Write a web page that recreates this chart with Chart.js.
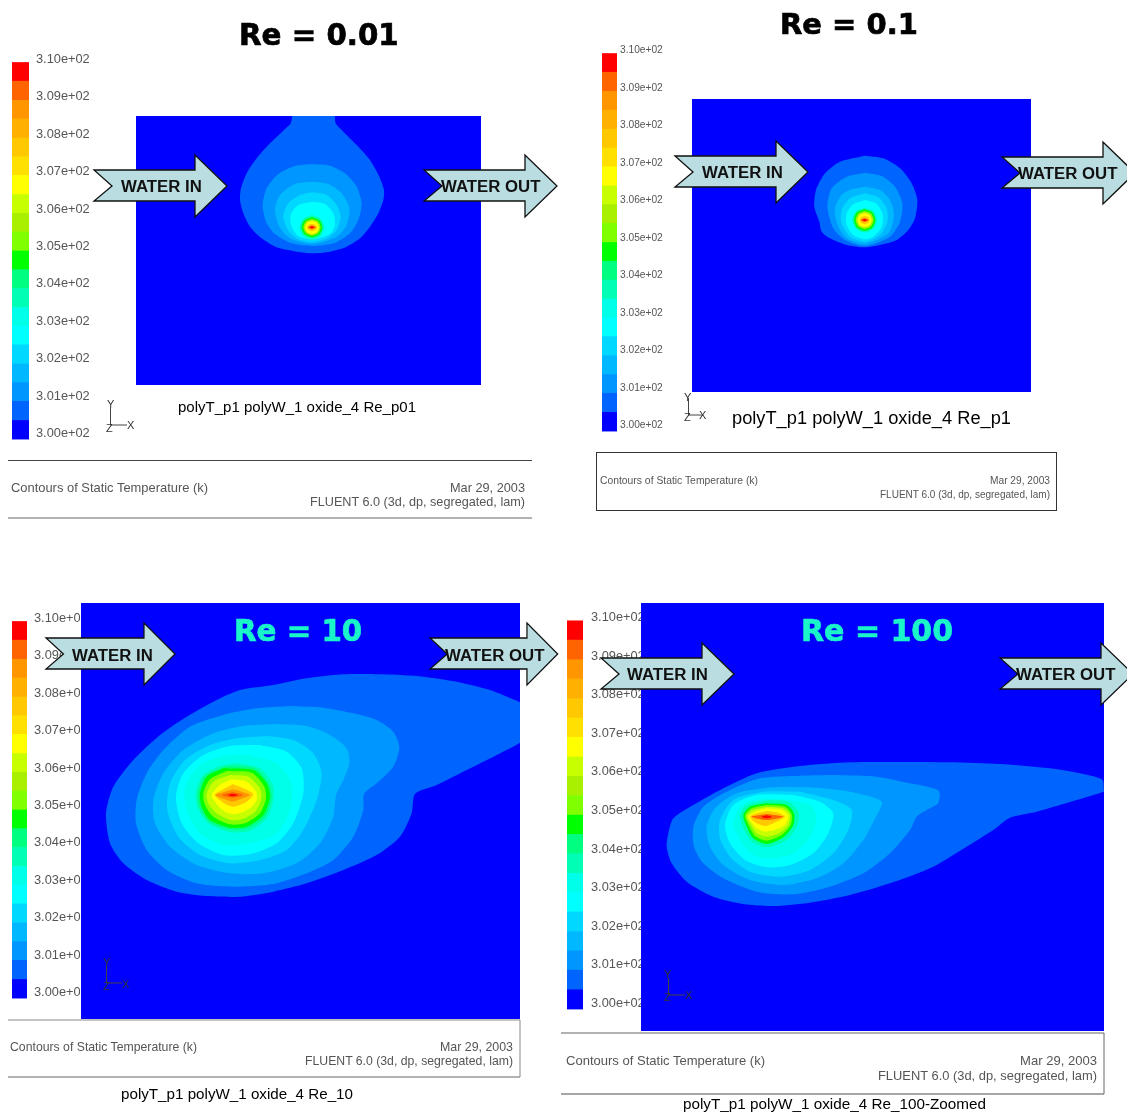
<!DOCTYPE html>
<html>
<head>
<meta charset="utf-8">
<title>Contours of Static Temperature</title>
<script src="https://cdn.jsdelivr.net/npm/chart.js@4"></script>
<style>
  html, body { margin: 0; background: #fff; }
  #page { position: relative; width: 1127px; height: 1114px; overflow: hidden; }
  #page canvas { position: absolute; }
  #notes { position: absolute; left: 0; top: 0; font-family: "Liberation Sans", Arial, sans-serif; }
  #notes .title { font-family: "DejaVu Sans", Verdana, sans-serif; font-weight: bold; stroke-width: 0.7; }
  #notes .arrow { fill: #b9dde0; stroke: #111; stroke-width: 1.3; }
  #notes .arrowText { font-weight: bold; font-size: 16.8px; fill: #111; }
  #notes .foot { fill: #555; }
  #notes .triad { fill: #333; font-size: 11px; }
</style>
</head>
<body>
<div id="page">
<svg id="notes" width="1127" height="1114" style="z-index:5">
  <defs>
    <polygon id="arrowShape" class="arrow" points="0,15 101,15 101,0 133,31 101,62 101,46 0,46 18,31"></polygon>
  </defs>

  <text class="title" x="239" y="45" font-size="29.3" fill="#000" stroke="#000">Re = 0.01</text>
  <text class="title" x="780" y="34" font-size="29" fill="#000" stroke="#000">Re = 0.1</text>
  <text class="title" x="234" y="641" font-size="29.3" fill="#19f5c9" stroke="#19f5c9">Re = 10</text>
  <text class="title" x="801" y="641" font-size="30" fill="#19f5c9" stroke="#19f5c9">Re = 100</text>

  <use href="#arrowShape" x="94" y="155"></use>
  <text class="arrowText" x="121" y="192">WATER IN</text>
  <use href="#arrowShape" x="424" y="155"></use>
  <text class="arrowText" x="441" y="192">WATER OUT</text>
  <use href="#arrowShape" x="675" y="141"></use>
  <text class="arrowText" x="702" y="178">WATER IN</text>
  <use href="#arrowShape" x="1002" y="142"></use>
  <text class="arrowText" x="1018" y="179">WATER OUT</text>
  <use href="#arrowShape" transform="translate(46,623) scale(.97,1)"></use>
  <text class="arrowText" x="72" y="661">WATER IN</text>
  <use href="#arrowShape" transform="translate(430,623) scale(.96,1)"></use>
  <text class="arrowText" x="445" y="661">WATER OUT</text>
  <use href="#arrowShape" x="601" y="643"></use>
  <text class="arrowText" x="627" y="680">WATER IN</text>
  <use href="#arrowShape" x="1000" y="643"></use>
  <text class="arrowText" x="1016" y="680">WATER OUT</text>

  <text x="178" y="412" font-size="14" textLength="238" lengthAdjust="spacingAndGlyphs">polyT_p1 polyW_1 oxide_4 Re_p01</text>
  <text x="732" y="424" font-size="17.5" textLength="279" lengthAdjust="spacingAndGlyphs">polyT_p1 polyW_1 oxide_4 Re_p1</text>
  <text x="121" y="1099" font-size="14.3" textLength="232" lengthAdjust="spacingAndGlyphs">polyT_p1 polyW_1 oxide_4 Re_10</text>
  <text x="683" y="1109" font-size="14.5" textLength="303" lengthAdjust="spacingAndGlyphs">polyT_p1 polyW_1 oxide_4 Re_100-Zoomed</text>

  <line x1="8" y1="460.5" x2="532" y2="460.5" stroke="#444"></line>
  <line x1="8" y1="518" x2="532" y2="518" stroke="#999" stroke-width="1.5"></line>
  <text class="foot" x="11" y="492" font-size="13" textLength="197" lengthAdjust="spacingAndGlyphs">Contours of Static Temperature (k)</text>
  <text class="foot" x="525" y="492" font-size="12.7" text-anchor="end" textLength="75" lengthAdjust="spacingAndGlyphs">Mar 29, 2003</text>
  <text class="foot" x="525" y="506" font-size="12.7" text-anchor="end" textLength="215" lengthAdjust="spacingAndGlyphs">FLUENT 6.0 (3d, dp, segregated, lam)</text>

  <rect x="596.5" y="452.5" width="460" height="58" fill="none" stroke="#333"></rect>
  <text class="foot" x="600" y="484" font-size="10.5" textLength="158" lengthAdjust="spacingAndGlyphs">Contours of Static Temperature (k)</text>
  <text class="foot" x="1050" y="484" font-size="10.2" text-anchor="end" textLength="60" lengthAdjust="spacingAndGlyphs">Mar 29, 2003</text>
  <text class="foot" x="1050" y="498" font-size="10.2" text-anchor="end" textLength="170" lengthAdjust="spacingAndGlyphs">FLUENT 6.0 (3d, dp, segregated, lam)</text>

  <line x1="8" y1="1020" x2="520" y2="1020" stroke="#888"></line>
  <line x1="8" y1="1077" x2="520" y2="1077" stroke="#999" stroke-width="1.5"></line>
  <line x1="520" y1="1020" x2="520" y2="1077" stroke="#888"></line>
  <text class="foot" x="10" y="1051" font-size="13" textLength="187" lengthAdjust="spacingAndGlyphs">Contours of Static Temperature (k)</text>
  <text class="foot" x="513" y="1051" font-size="12.4" text-anchor="end" textLength="73" lengthAdjust="spacingAndGlyphs">Mar 29, 2003</text>
  <text class="foot" x="513" y="1065" font-size="12.4" text-anchor="end" textLength="208" lengthAdjust="spacingAndGlyphs">FLUENT 6.0 (3d, dp, segregated, lam)</text>

  <line x1="561" y1="1033" x2="1104" y2="1033" stroke="#666"></line>
  <line x1="561" y1="1094" x2="1104" y2="1094" stroke="#888" stroke-width="1.5"></line>
  <line x1="1104" y1="1033" x2="1104" y2="1094" stroke="#666"></line>
  <text class="foot" x="566" y="1065" font-size="13.5" textLength="199" lengthAdjust="spacingAndGlyphs">Contours of Static Temperature (k)</text>
  <text class="foot" x="1097" y="1065" font-size="13" text-anchor="end" textLength="77" lengthAdjust="spacingAndGlyphs">Mar 29, 2003</text>
  <text class="foot" x="1097" y="1080" font-size="13" text-anchor="end" textLength="219" lengthAdjust="spacingAndGlyphs">FLUENT 6.0 (3d, dp, segregated, lam)</text>

  <g stroke="#444" fill="none">
    <path d="M110.5 408V425H127"></path>
    <path d="M688.5 398V415H703"></path>
    <path d="M106.5 966V983H122"></path>
    <path d="M668.5 978V995H685"></path>
  </g>
  <g class="triad">
    <text x="107" y="408">Y</text><text x="127" y="429">X</text><text x="106" y="432">Z</text>
    <text x="684" y="401">Y</text><text x="699" y="419">X</text><text x="684" y="421">Z</text>
    <text x="103" y="966">Y</text><text x="122" y="988">X</text><text x="103" y="990">Z</text>
    <text x="664" y="978">Y</text><text x="685" y="999">X</text><text x="664" y="1001">Z</text>
  </g>
</svg>
</div>

<script>
// temperature scale shared by all four plots
const tickValues = [300, 301, 302, 303, 304, 305, 306, 307, 308, 309, 310];
const tickLabels = ["3.00e+02", "3.01e+02", "3.02e+02", "3.03e+02", "3.04e+02", "3.05e+02",
  "3.06e+02", "3.07e+02", "3.08e+02", "3.09e+02", "3.10e+02"];
const bandEdges = [299.85, 300.35, 300.86, 301.36, 301.86, 302.37, 302.87, 303.37, 303.88, 304.38, 304.88,
  305.39, 305.89, 306.39, 306.9, 307.4, 307.9, 308.41, 308.91, 309.42, 309.92];
const bandColors = ["#0000ff", "#0064ff", "#0096ff", "#00b8ff", "#00d8ff", "#00ffff", "#00ffe8", "#00ffb4",
  "#00ff80", "#00ff00", "#80ff00", "#a8f000", "#c8ff00", "#ffff00", "#ffe000", "#ffc800",
  "#ffb000", "#ff9600", "#ff6400", "#ff0000"];

// contour outlines, outermost first. Units are mesh units of each plot, see the ranges below
const re001Bands = [1, 2, 3, 4, 5, 7, 9, 11, 13, 15, 18, 19];
const re001Contours = [
  [[218,5],[212,40],[190,62],[150,100],[110,145],[80,190],[63,235],[60,270],[70,310],[90,350],[125,385],[170,412],[230,425],[275,430],[330,425],[380,410],[420,385],[450,350],[475,310],[490,270],[492,240],[478,200],[450,150],[410,105],[370,65],[347,40],[340,5]],
  [[278,162],[330,167],[375,190],[410,230],[425,280],[415,330],[390,370],[345,398],[278,408],[215,400],[165,372],[138,335],[128,285],[140,235],[175,192],[225,168]],
  [[278,215],[325,222],[365,250],[388,295],[380,345],[350,380],[278,402],[210,385],[178,350],[165,300],[180,255],[225,222]],
  [[278,247],[320,255],[350,285],[362,320],[350,360],[320,385],[278,397],[235,388],[205,362],[190,320],[205,280],[240,255]],
  [[278,275],[315,282],[340,310],[345,345],[330,372],[278,388],[235,378],[215,350],[212,315],[235,285]],
  [[276,315],[302,326],[313,352],[302,378],[276,389],[250,378],[239,352],[250,326]],
  [[276,322],[298,331],[307,352],[298,373],[276,382],[254,373],[245,352],[254,331]],
  [[276,327],[294,334],[302,352],[294,370],[276,377],[258,370],[250,352],[258,334]],
  [[276,332],[291,338],[297,352],[291,366],[276,372],[261,366],[255,352],[261,338]],
  [[276,341],[286,344],[291,352],[286,360],[276,364],[266,360],[261,352],[266,344]],
  [[276,346],[288,352],[276,358],[264,352]],
  [[276,349],[284,352],[276,355],[268,352]]
];

const re01Bands = [1, 2, 3, 4, 5, 7, 9, 11, 13, 15, 18, 19];
const re01Contours = [
  [[225,47],[280,55],[330,85],[365,130],[382,180],[375,235],[355,270],[320,300],[270,315],[225,322],[170,315],[120,295],[95,275],[88,245],[73,200],[78,150],[105,100],[150,65]],
  [[225,98],[275,108],[315,140],[337,190],[330,245],[300,290],[225,318],[165,300],[130,265],[112,200],[125,145],[170,110]],
  [[225,140],[270,150],[300,180],[312,225],[295,280],[225,312],[170,295],[143,255],[135,205],[155,165],[185,148]],
  [[225,160],[265,172],[290,205],[292,245],[270,285],[225,305],[180,290],[155,250],[155,210],[180,175]],
  [[225,180],[258,190],[278,222],[275,262],[250,290],[225,298],[190,285],[170,255],[170,220],[190,193]],
  [[224,203],[250,214],[261,240],[250,266],[224,277],[198,266],[187,240],[198,214]],
  [[224,208],[247,217],[256,240],[247,263],[224,272],[201,263],[192,240],[201,217]],
  [[224,213],[243,221],[251,240],[243,259],[224,267],[205,259],[197,240],[205,221]],
  [[224,219],[239,225],[245,240],[239,255],[224,261],[209,255],[203,240],[209,225]],
  [[224,228],[234,231],[239,240],[234,249],[224,253],[214,249],[209,240],[214,231]],
  [[224,234],[236,240],[224,246],[212,240]],
  [[224,237],[232,240],[224,243],[216,240]]
];

const re10Bands = [1, 2, 3, 4, 5, 6, 7, 8, 9, 10, 12, 13, 15, 17, 18, 19];
const re10Contours = [
  [[1310,135],[1200,90],[1100,65],[1000,50],[880,43],[760,43],[650,55],[550,75],[450,90],[370,125],[290,170],[210,225],[130,300],[70,380],[48,460],[60,550],[100,610],[170,660],[260,695],[350,708],[450,710],[550,695],[650,670],[760,630],[860,585],[930,530],[965,460],[975,402],[1040,375],[1130,330],[1220,285],[1310,230]],
  [[600,138],[700,143],[790,160],[860,180],[910,215],[928,262],[910,320],[860,370],[822,402],[820,450],[790,530],[730,600],[650,640],[550,672],[430,680],[320,670],[230,630],[170,570],[138,490],[140,420],[170,340],[220,270],[300,200],[400,165],[500,145]],
  [[560,192],[650,198],[720,225],[770,265],[778,310],[760,360],[738,405],[730,470],[690,550],[620,610],[520,640],[420,640],[320,615],[240,560],[195,490],[190,420],[220,340],[280,270],[370,220],[460,198]],
  [[530,228],[610,240],[670,280],[695,340],[680,420],[640,510],[590,570],[510,600],[420,610],[330,585],[265,530],[232,450],[240,370],[285,300],[360,255],[440,235]],
  [[510,255],[590,275],[635,325],[640,400],[610,490],[560,550],[480,583],[400,585],[325,550],[275,490],[258,410],[280,340],[340,285],[420,258]],
  [[480,285],[560,310],[605,370],[600,450],[560,520],[480,550],[400,555],[330,520],[290,450],[285,380],[330,315],[400,288]],
  [[440,310],[510,325],[548,375],[550,420],[530,475],[480,512],[420,516],[355,490],[322,440],[318,395],[340,345],[390,318]],
  [[410,318],[495,325],[535,368],[545,410],[525,470],[472,505],[420,508],[358,485],[328,440],[324,398],[345,348]],
  [[400,325],[490,330],[530,370],[540,410],[520,465],[470,500],[420,503],[360,480],[335,440],[330,400],[350,350]],
  [[410,333],[485,338],[522,378],[528,415],[510,460],[465,490],[420,493],[370,470],[345,435],[340,400],[360,358]],
  [[420,345],[475,350],[510,385],[513,420],[495,455],[455,478],[420,480],[380,460],[355,430],[350,403],[370,365]],
  [[425,358],[470,365],[498,395],[500,420],[480,445],[440,462],[405,455],[375,425],[365,405],[390,375]],
  [[428,372],[460,385],[490,403],[470,425],[430,440],[400,428],[375,405],[400,388]],
  [[428,388],[455,395],[480,405],[450,418],[428,425],[405,418],[375,405],[405,395]],
  [[428,397],[460,405],[428,413],[395,405]],
  [[428,401],[445,405],[428,409],[412,405]]
];

const re100Bands = [1, 2, 3, 4, 5, 6, 7, 9, 10, 12, 13, 15, 18, 19];
const re100Contours = [
  [[1362,125],[1358,90],[1300,72],[1200,55],[1050,42],[900,37],[750,36],[600,37],[450,48],[325,68],[260,95],[200,125],[130,165],[70,205],[55,250],[50,290],[65,340],[110,395],[190,440],[280,462],[370,468],[480,458],[600,435],[720,400],[840,355],[950,290],[1030,240],[1080,203],[1160,185],[1280,150]],
  [[560,75],[680,80],[780,100],[866,122],[864,160],[830,180],[800,200],[780,240],[720,310],[640,370],[540,410],[430,433],[320,425],[220,385],[160,340],[132,290],[130,230],[160,170],[230,125],[330,85],[450,77]],
  [[480,112],[600,125],[695,155],[670,215],[640,270],[580,340],[500,385],[400,405],[300,390],[220,345],[180,290],[170,230],[195,175],[260,130],[370,112]],
  [[450,125],[550,150],[605,180],[595,240],[550,310],[480,360],[390,380],[300,365],[240,320],[210,265],[210,210],[250,150],[340,125]],
  [[430,135],[510,155],[550,190],[535,250],[490,310],[420,345],[350,352],[285,330],[240,280],[225,225],[250,165],[320,135]],
  [[400,148],[480,165],[500,200],[480,260],[430,310],[370,325],[310,315],[270,270],[250,220],[275,165],[330,148]],
  [[360,150],[415,155],[445,185],[442,225],[410,270],[350,292],[305,275],[280,235],[270,195],[290,165]],
  [[350,160],[410,165],[432,190],[430,225],[400,262],[350,282],[310,265],[290,230],[280,195],[300,170]],
  [[350,165],[405,170],[425,192],[422,225],[395,255],[350,272],[315,258],[297,228],[285,197],[305,175]],
  [[350,170],[400,175],[420,195],[415,225],[390,248],[350,260],[320,250],[303,225],[290,198],[310,180]],
  [[350,175],[395,180],[415,197],[405,225],[380,238],[345,245],[320,235],[308,222],[295,200],[315,185]],
  [[350,183],[385,188],[405,200],[380,215],[345,228],[320,220],[300,200],[320,190]],
  [[350,192],[400,200],[350,210],[305,200]],
  [[350,196],[365,200],[350,205],[335,200]]
];

// mesh range of each plot
const re001Range = { x: [-252, 783], y: [18, 825] };
const re01Range = { x: [-294, 723], y: [-123, 756] };
const re10Range = { x: [-27, 1290], y: [-171, 1077] };
const re100Range = { x: [-27, 1362], y: [-441, 843] };

// where things sit on the page
const panels = [
  { contours: re001Contours, bands: re001Bands, range: re001Range, box: [136, 116, 345, 269],
    bar: { left: 12, width: 17, y310: 59, perDegree: 37.45, font: 12.8, gap: 7 } },
  { contours: re01Contours, bands: re01Bands, range: re01Range, box: [692, 99, 339, 293],
    bar: { left: 602, width: 15, y310: 50, perDegree: 37.5, font: 10.2, gap: 3 } },
  { contours: re10Contours, bands: re10Bands, range: re10Range, box: [81, 603, 439, 416],
    bar: { left: 12, width: 15, y310: 618, perDegree: 37.4, font: 12.8, gap: 7 } },
  { contours: re100Contours, bands: re100Bands, range: re100Range, box: [641, 603, 463, 428],
    bar: { left: 567, width: 16, y310: 618, perDegree: 38.6, font: 12.8, gap: 8 } }
];

const page = document.getElementById("page");

function addCanvas(left, top, width, height, background) {
  const canvas = document.createElement("canvas");
  canvas.width = width;
  canvas.height = height;
  canvas.style.left = left + "px";
  canvas.style.top = top + "px";
  canvas.style.width = width + "px";
  canvas.style.height = height + "px";
  if (background) canvas.style.background = background;
  page.appendChild(canvas);
  return canvas;
}

function drawColorBar(bar) {
  const axisWidth = 70;
  const yMax = 310.2;
  const yMin = 299.8;
  const top = bar.y310 - (yMax - 310) * bar.perDegree;
  const height = Math.round((yMax - yMin) * bar.perDegree);
  const canvas = addCanvas(bar.left, top, bar.width + axisWidth, height);

  new Chart(canvas, {
    type: "bar",
    data: {
      labels: ["T"],
      datasets: bandColors.map((color, i) => ({
        data: [[bandEdges[i], bandEdges[i + 1]]],
        backgroundColor: color,
        borderWidth: 0,
        grouped: false,
        barPercentage: 1,
        categoryPercentage: 1,
      })),
    },
    options: {
      responsive: false,
      animation: false,
      plugins: { legend: { display: false }, tooltip: { enabled: false } },
      layout: { padding: 0 },
      scales: {
        x: { display: false },
        y: {
          position: "right",
          min: yMin,
          max: yMax,
          grid: { display: false, drawTicks: false },
          border: { display: false },
          afterBuildTicks: (scale) => {
            scale.ticks = tickValues.map((v) => ({ value: v }));
          },
          afterFit: (scale) => {
            scale.width = axisWidth;
            scale.paddingTop = 0;
            scale.paddingBottom = 0;
          },
          ticks: {
            autoSkip: false,
            padding: bar.gap,
            color: "#555",
            font: { family: "'Liberation Sans', Arial", size: bar.font },
            callback: (value) => tickLabels[tickValues.indexOf(value)],
          },
        },
      },
    },
  });
}

function drawContours(panel) {
  const [left, top, width, height] = panel.box;
  const canvas = addCanvas(left, top, width, height, bandColors[0]);

  // chart.js paints the first dataset last, so the hot core goes first
  const datasets = panel.contours
    .map((outline, i) => ({
      data: outline.concat([outline[0]]).map(([x, y]) => ({ x, y })),
      showLine: true,
      fill: "shape",
      tension: 0.25,
      pointRadius: 0,
      borderWidth: 0,
      borderColor: "transparent",
      backgroundColor: bandColors[panel.bands[i]],
    }))
    .reverse();

  new Chart(canvas, {
    type: "scatter",
    data: { datasets },
    options: {
      responsive: false,
      animation: false,
      plugins: { legend: { display: false }, tooltip: { enabled: false } },
      layout: { padding: 0 },
      scales: {
        x: { display: false, min: panel.range.x[0], max: panel.range.x[1] },
        y: { display: false, reverse: true, min: panel.range.y[0], max: panel.range.y[1] },
      },
    },
  });
}

panels.forEach((panel) => {
  drawColorBar(panel.bar);
  drawContours(panel);
});
</script>
</body>
</html>
